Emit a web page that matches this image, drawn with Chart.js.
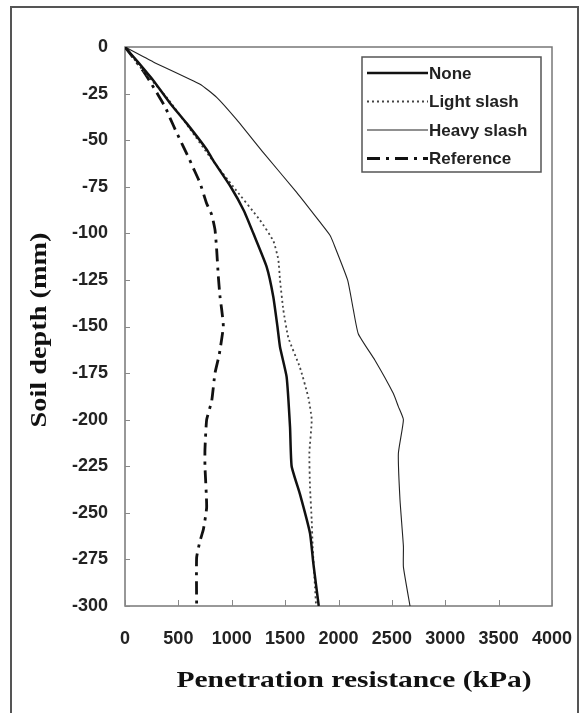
<!DOCTYPE html>
<html>
<head>
<meta charset="utf-8">
<script src="https://cdn.jsdelivr.net/npm/chart.js@4.4.1/dist/chart.umd.min.js"></script>
<style>
  html, body { margin: 0; padding: 0; background: #fff; }
  canvas { display: block; }
</style>
</head>
<body>
<canvas id="chart" width="586" height="713"></canvas>
<script>
/* ── Data ────────────────────────────────────────────────── */
const X_TICKS = [0, 500, 1000, 1500, 2000, 2500, 3000, 3500, 4000];
const Y_TICKS = [0, -25, -50, -75, -100, -125, -150, -175, -200, -225, -250, -275, -300];

const noneDepth = [0, -8, -18, -30, -41, -55, -61, -75, -88, -100, -118, -134, -150, -161, -177, -204, -225, -240, -261, -277, -300];
const noneKpa   = [0, 120, 265, 420, 578, 765, 827, 990, 1115, 1202, 1327, 1389, 1428, 1452, 1514, 1546, 1561, 1639, 1733, 1764, 1815];

const lightDepth = [0, -12, -27, -44, -59, -75, -93, -104, -114, -125, -141, -156, -172, -188, -200, -218, -236, -254, -268, -290, -300];
const lightKpa   = [0, 160, 390, 609, 796, 1015, 1265, 1389, 1436, 1452, 1483, 1530, 1639, 1717, 1749, 1727, 1733, 1749, 1758, 1780, 1790];

const heavyDepth = [0, -8, -20, -27, -39, -57, -78, -94, -101, -105, -125, -141, -154, -168, -186, -193, -200, -218, -243, -268, -279, -300];
const heavyKpa   = [0, 265, 703, 859, 1046, 1300, 1608, 1827, 1920, 1951, 2085, 2139, 2186, 2340, 2514, 2561, 2608, 2561, 2576, 2608, 2608, 2670];

const refDepth = [0, -13, -20, -32, -38, -46, -59, -65, -73, -84, -90, -98, -109, -123, -134, -141, -150, -165, -175, -190, -200, -216, -225, -247, -259, -265, -274, -300];
const refKpa   = [0, 172, 250, 375, 421, 484, 593, 640, 703, 765, 812, 843, 859, 874, 890, 906, 921, 883, 843, 812, 765, 749, 749, 765, 734, 703, 671, 671];

const SERIES = ['None', 'Light slash', 'Heavy slash', 'Reference'];

const pts = (xs, ys) => xs.map((x, i) => ({ x, y: ys[i] }));

const TICK_FONT = '"Liberation Sans", Arial, sans-serif';
const TITLE_FONT = '"Liberation Serif", "Times New Roman", serif';

/* ── Plugins ─────────────────────────────────────────────── */
const framePlugin = {
  id: 'frame',
  beforeDraw(chart) {
    const ctx = chart.ctx;
    ctx.save();
    ctx.fillStyle = '#fff';
    ctx.fillRect(0, 0, chart.width, chart.height);
    ctx.strokeStyle = '#555';
    ctx.lineWidth = 2;
    ctx.strokeRect(11, 7, 567, 720);
    ctx.restore();
  },
  beforeDatasetsDraw(chart) {
    const { ctx, chartArea: a, scales } = chart;
    ctx.save();
    ctx.strokeStyle = '#777';
    ctx.lineWidth = 1.5;
    ctx.strokeRect(a.left, a.top, a.right - a.left, a.bottom - a.top);
    // inward tick marks
    ctx.lineWidth = 1;
    ctx.strokeStyle = '#888';
    ctx.beginPath();
    scales.y.ticks.forEach(t => {
      const y = Math.round(scales.y.getPixelForValue(t.value)) + 0.5;
      ctx.moveTo(a.left, y); ctx.lineTo(a.left + 5, y);
    });
    scales.x.ticks.forEach(t => {
      const x = Math.round(scales.x.getPixelForValue(t.value)) + 0.5;
      ctx.moveTo(x, a.bottom); ctx.lineTo(x, a.bottom - 6);
    });
    ctx.stroke();
    ctx.restore();
  },
  afterDraw(chart) {
    const ctx = chart.ctx;
    ctx.save();
    ctx.fillStyle = '#111';
    ctx.textAlign = 'center';
    ctx.textBaseline = 'middle';
    ctx.font = 'bold 24px ' + TITLE_FONT;

    // x title
    let t = 'Penetration resistance (kPa)';
    let w = ctx.measureText(t).width;
    ctx.save();
    ctx.translate(354, 681);
    ctx.scale(355 / w, 1);
    ctx.fillText(t, 0, 0);
    ctx.restore();

    // y title
    t = 'Soil depth (mm)';
    w = ctx.measureText(t).width;
    ctx.save();
    ctx.translate(40, 330);
    ctx.rotate(-Math.PI / 2);
    ctx.scale(195 / w, 1);
    ctx.fillText(t, 0, 0);
    ctx.restore();

    // legend
    const L = { left: 362, top: 57, width: 179, height: 115 };
    ctx.strokeStyle = '#555';
    ctx.lineWidth = 1.5;
    ctx.strokeRect(L.left, L.top, L.width, L.height);
    ctx.font = 'bold 17px ' + TICK_FONT;
    ctx.textAlign = 'left';
    chart.data.datasets.forEach((ds, i) => {
      const y = L.top + 16 + i * 28.5;
      ctx.save();
      ctx.strokeStyle = ds.borderColor;
      ctx.lineWidth = ds.borderWidth;
      ctx.setLineDash(ds.borderDash || []);
      ctx.beginPath();
      ctx.moveTo(L.left + 5, y);
      ctx.lineTo(L.left + 66, y);
      ctx.stroke();
      ctx.restore();
      ctx.fillStyle = '#222';
      ctx.fillText(ds.label, L.left + 67, y + 1);
    });
    ctx.restore();
  }
};

/* ── Chart ───────────────────────────────────────────────── */
const line = (label, data, color, width, dash) => ({
  label, data,
  showLine: true,
  borderColor: color,
  backgroundColor: color,
  borderWidth: width,
  borderDash: dash,
  pointRadius: 0,
  tension: 0.15,
  fill: false,
});

new Chart(document.getElementById('chart'), {
  type: 'scatter',
  data: {
    datasets: [
      line(SERIES[0], pts(noneKpa, noneDepth), '#111', 2.5, []),
      line(SERIES[1], pts(lightKpa, lightDepth), '#444', 1.8, [2, 3]),
      line(SERIES[2], pts(heavyKpa, heavyDepth), '#222', 1.1, []),
      line(SERIES[3], pts(refKpa, refDepth), '#111', 2.8, [13, 6, 3, 6]),
    ]
  },
  options: {
    responsive: false,
    animation: false,
    devicePixelRatio: 1,
    layout: { padding: { top: 47, right: 34, left: 0, bottom: 0 } },
    plugins: { legend: { display: false }, tooltip: { enabled: false } },
    scales: {
      x: {
        type: 'linear', min: 0, max: 4000,
        afterBuildTicks: s => { s.ticks = X_TICKS.map(v => ({ value: v })); },
        afterFit: s => { s.height = 107; s.paddingLeft = 0; s.paddingRight = 0; },
        grid: { display: false, drawTicks: false },
        border: { display: false },
        ticks: {
          autoSkip: false, maxRotation: 0, padding: 22,
          color: '#222', font: { family: TICK_FONT, size: 18, weight: 'bold' },
          callback: v => String(v),
        },
      },
      y: {
        type: 'linear', min: -300, max: 0,
        afterBuildTicks: s => { s.ticks = Y_TICKS.map(v => ({ value: v })); },
        afterFit: s => { s.width = 125; s.paddingTop = 0; s.paddingBottom = 0; },
        grid: { display: false, drawTicks: false },
        border: { display: false },
        ticks: {
          autoSkip: false, padding: 17,
          color: '#222', font: { family: TICK_FONT, size: 18, weight: 'bold' },
          callback: v => String(v),
        },
      },
    },
  },
  plugins: [framePlugin],
});
</script>
</body>
</html>
